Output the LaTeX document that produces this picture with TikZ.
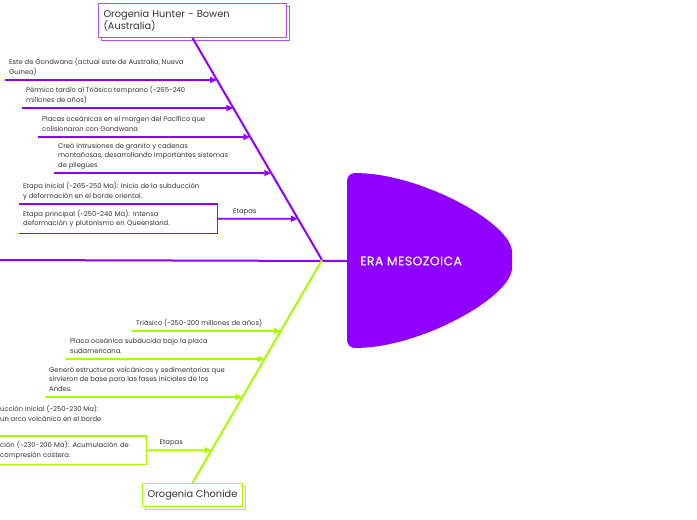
\documentclass[tikz,border=0pt]{standalone}
\usepackage{fontspec}
\setmainfont{Poppins}
\newfontfamily\headfont[LetterSpace=4,FakeBold=0.6]{Poppins}
\usetikzlibrary{arrows.meta,shadows}
\definecolor{mmpurple}{RGB}{143,0,255}
\definecolor{mmgreen}{RGB}{170,250,0}
\definecolor{mmtext}{RGB}{51,51,51}
\tikzset{
  bone/.style={line width=2pt},
  branch/.style={line width=1.6pt,-{Triangle[length=7pt,width=6pt]}},
  leaf/.style={font=\fontsize{6.8}{9.6}\selectfont,text=mmtext,align=left,
    inner xsep=4pt,inner ysep=3.5pt,text depth=1.8pt,anchor=south west},
  stage/.style={font=\fontsize{6.8}{9.6}\selectfont,text=mmtext,align=left,
    inner xsep=4pt,inner ysep=0pt,anchor=north west},
  topic/.style={draw,line width=1pt,fill=white,text=mmtext,inner sep=5pt,
    font=\fontsize{9.8}{12}\selectfont,copy shadow={shadow xshift=3pt,shadow yshift=-3pt}},
  etapa/.style={font=\fontsize{6.8}{8}\selectfont,text=mmtext,above,inner sep=3pt},
  stagebox/.style={line width=1.6pt},
}
\begin{document}
\begin{tikzpicture}[x=1pt,y=-1pt]
  \useasboundingbox (0,0) rectangle (697,520);
  % spine and head
  \coordinate (tail) at (0,260);
  \coordinate (jn) at (322,260);
  \fill[mmpurple,rounded corners=8pt] (362,173) .. controls (432,180) and (512,225) .. (512,260)
    .. controls (512,295) and (432,341) .. (362,348) -- (347,348) -- (347,173) -- cycle;
  \node[anchor=west,inner xsep=13pt,text=white,font=\headfont\fontsize{12.3}{14}\selectfont] (head) at (347,261) {ERA MESOZOICA};
  \draw[bone,mmpurple] (tail) -- (head.west);
  % upper bone
  \node[topic,draw=mmpurple!70,anchor=north west,text width=178pt,minimum height=34pt,align=left] (hb) at (98,3)
    {Orogenia Hunter - Bowen\\(Australia)};
  \draw[bone,mmpurple] (hb.south) -- (jn);
  \node[leaf] (p1) at (5,80) {Este de Gondwana (actual este de Australia, Nueva\\Guinea)};
  \node[leaf] (p2) at (22,108) {Pérmico tardío al Triásico temprano (\textasciitilde265-240\\millones de años)};
  \node[leaf] (p3) at (38,137) {Placas oceánicas en el margen del Pacífico que\\colisionaron con Gondwana};
  \node[leaf] (p4) at (54,173) {Creó intrusiones de granito y cadenas\\montañosas, desarrollando importantes sistemas\\de pliegues};
  \foreach \n in {p1,p2,p3,p4}
    \draw[branch,mmpurple] (\n.south west) -- (intersection of hb.south--jn and \n.south west--\n.south east);
  \node[stage,text width=190pt,minimum height=29pt] (p6) at (19,204)
    {Etapa principal (\textasciitilde250-240 Ma): Intensa\\deformación y plutonismo en Queensland.};
  \node[leaf] (p5) at (p6.north west) {Etapa inicial (\textasciitilde265-250 Ma): Inicio de la subducción\\y deformación en el borde oriental.};
  \draw[stagebox,mmpurple] (p6.north west) -- (p6.north east) -- (p6.south east) -- (p6.south west);
  \draw[branch,mmpurple] (p6.east) -- (intersection of hb.south--jn and p6.west--p6.east)
    node[etapa,pos=0.34] {Etapas};
  % lower bone
  \node[topic,draw=mmgreen,anchor=north west,minimum width=100pt,minimum height=23pt] (ch) at (142,483) {Orogenia Chonide};
  \draw[bone,mmgreen] (jn) -- (ch.north);
  \node[leaf] (g1) at (132,331) {Triásico (\textasciitilde250-200 millones de años)};
  \node[leaf] (g2) at (66,359) {Placa oceánica subducida bajo la placa\\sudamericana.};
  \node[leaf] (g3) at (45,397) {Generó estructuras volcánicas y sedimentarias que\\sirvieron de base para las fases iniciales de los\\Andes.};
  \foreach \n in {g1,g2,g3}
    \draw[branch,mmgreen] (\n.south west) -- (intersection of jn--ch.north and \n.south west--\n.south east);
  \node[leaf] (g4) at (-4,427) {ucción inicial (\textasciitilde250-230 Ma):\\un arco volcánico en el borde};
  \node[stage,text width=142pt,minimum height=28pt] (g5) at (-4,436)
    {ción (\textasciitilde230-200 Ma): Acumulación de\\compresión costera.};
  \draw[stagebox,mmgreen] (g5.north west) rectangle (g5.south east);
  \draw[branch,mmgreen] (g5.east) -- (intersection of jn--ch.north and g5.west--g5.east)
    node[etapa,pos=0.38] {Etapas};
\end{tikzpicture}
\end{document}
